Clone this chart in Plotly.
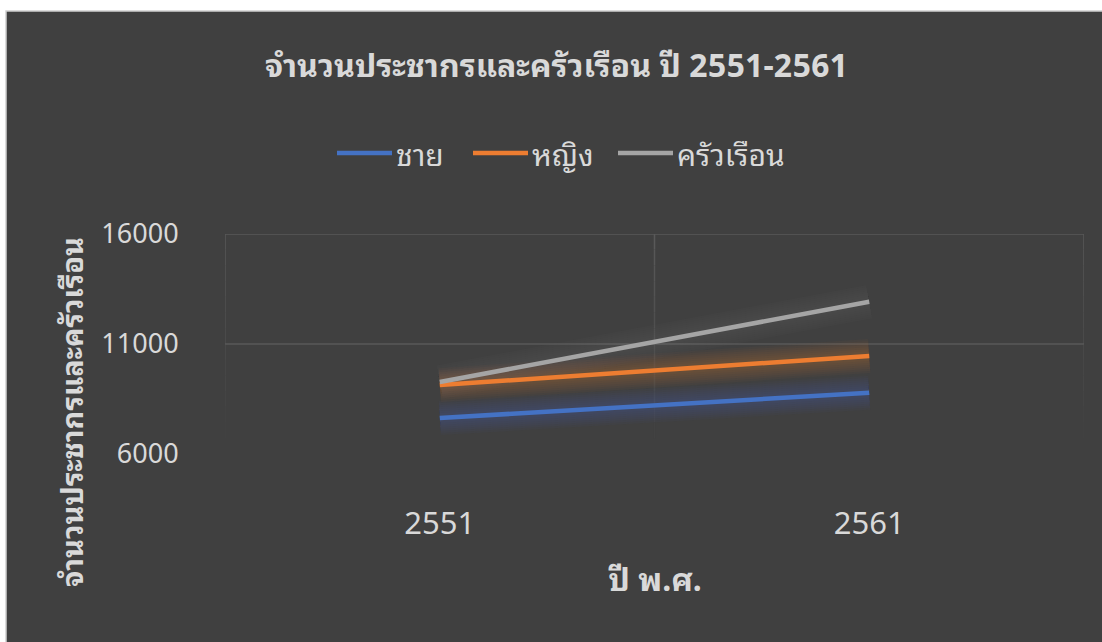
import plotly.graph_objects as go

# Data
years = ["2551", "2561"]
series_names = ["ชาย", "หญิง", "ครัวเรือน"]
male = [7636, 8786]
female = [9136, 10455]
households = [9273, 12923]
series_values = [male, female, households]
y_ticks = [6000, 11000, 16000]

title_text = "จำนวนประชากรและครัวเรือน ปี 2551-2561"
x_title = "ปี พ.ศ."
y_title = "จำนวนประชากรและครัวเรือน"

colors = ["#4472C4", "#ED7D31", "#A5A5A5"]
glow_strength = [1.0, 1.0, 0.4]
bg = "#404040"
txt = "#D9D9D9"
grid = "#595959"
font_family = "Noto Sans Thai Looped, Noto Sans Thai, Noto Sans, sans-serif"

W, H = 1102, 642
L, R, T, B = 225, 18, 234, 188
pw, ph = W - L - R, H - T - B


def px_x(p):
    return (p - L) / pw


def px_y(p):
    return (H - B - p) / ph


fig = go.Figure()

# soft glow under each line, built from many faint wide strokes
glow_widths = [34, 30, 26, 22, 18, 14, 10]
for name, vals, c, s in zip(series_names, series_values, colors, glow_strength):
    r, g, b = int(c[1:3], 16), int(c[3:5], 16), int(c[5:7], 16)
    for w in glow_widths:
        fig.add_trace(go.Scatter(
            x=years, y=vals, mode="lines", showlegend=False, hoverinfo="skip",
            line=dict(color=f"rgba({r},{g},{b},{0.04 * s:.3f})", width=w)))

for name, vals, c in zip(series_names, series_values, colors):
    fig.add_trace(go.Scatter(
        x=years, y=vals, mode="lines", name=name, showlegend=False,
        line=dict(color=c, width=4.5)))

shapes = []
# chart background with thin border
shapes.append(dict(type="rect", xref="paper", yref="paper", layer="below",
                   x0=px_x(6), x1=px_x(W + 5), y0=px_y(H + 5), y1=px_y(11),
                   fillcolor=bg, line=dict(color="#D0D0D0", width=1.5)))
# horizontal gridlines
for v in y_ticks[1:]:
    shapes.append(dict(type="line", xref="x", yref="y", layer="below",
                       x0=-0.5, x1=1.5, y0=v, y1=v,
                       line=dict(color=grid, width=1.5)))
# vertical gridlines fading downward
nseg = 14
for xv in [-0.5, 0.5, 1.5]:
    for i in range(nseg):
        y0 = 16000 - i * (10000 / nseg)
        y1 = 16000 - (i + 1) * (10000 / nseg)
        a = max(0.0, 1.0 - i / (nseg - 1))
        shapes.append(dict(type="line", xref="x", yref="y", layer="below",
                           x0=xv, x1=xv, y0=y0, y1=y1,
                           line=dict(color=f"rgba(89,89,89,{a:.3f})", width=1.5)))

annotations = [
    dict(text=f"<b>{title_text}</b>", xref="paper", yref="paper",
         x=px_x(556), y=px_y(62), xanchor="center", yanchor="middle",
         showarrow=False, font=dict(size=32, color=txt, family=font_family)),
    dict(text=f"<b>{x_title}</b>", xref="paper", yref="paper",
         x=px_x(655), y=px_y(576), xanchor="center", yanchor="middle",
         showarrow=False, font=dict(size=32, color=txt, family=font_family)),
    dict(text=f"<b>{y_title}</b>", xref="paper", yref="paper",
         x=px_x(70), y=px_y(412), xanchor="center", yanchor="middle",
         textangle=-90, showarrow=False,
         font=dict(size=29, color=txt, family=font_family)),
]

# legend: line sample + label for each series
legend_line_x = [337, 473, 618]
legend_y = 153
for name, c, lx in zip(series_names, colors, legend_line_x):
    shapes.append(dict(type="line", xref="paper", yref="paper",
                       x0=px_x(lx), x1=px_x(lx + 55), y0=px_y(legend_y), y1=px_y(legend_y),
                       line=dict(color=c, width=4.5)))
    annotations.append(dict(text=name, xref="paper", yref="paper",
                            x=px_x(lx + 57), y=px_y(legend_y - 1),
                            xanchor="left", yanchor="middle", showarrow=False,
                            font=dict(size=30, color=txt, family=font_family)))

fig.update_layout(
    width=W, height=H,
    margin=dict(l=L, r=R, t=T, b=B),
    paper_bgcolor="white",
    plot_bgcolor="rgba(0,0,0,0)",
    font=dict(family=font_family, color=txt),
    shapes=shapes,
    annotations=annotations,
    showlegend=False,
    xaxis=dict(type="category", range=[-0.5, 1.5], showgrid=False,
               zeroline=False, showline=False,
               ticks="outside", ticklen=42, tickcolor="rgba(0,0,0,0)",
               tickfont=dict(size=31, color=txt, family=font_family)),
    yaxis=dict(range=[6000, 16000], tickvals=y_ticks, tickformat="d",
               showgrid=False, zeroline=False, showline=False,
               ticks="outside", ticklen=40, tickcolor="rgba(0,0,0,0)",
               tickfont=dict(size=27, color=txt, family=font_family)),
)

fig.write_html("out.html")
